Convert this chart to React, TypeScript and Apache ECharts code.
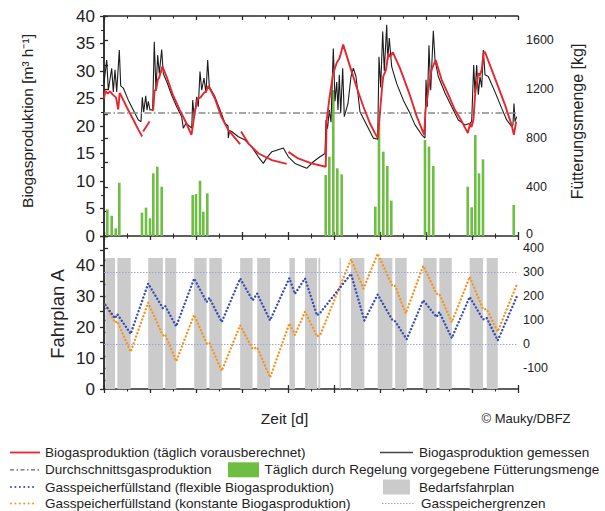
import React, { useEffect, useRef } from 'react';
import * as echarts from 'echarts';

const FONT = "'Liberation Sans', Arial, Helvetica, sans-serif";

// ---------- top panel data ----------
// predicted biogas production [m³/h], separate computed segments (days, value)
const predictedSegments: number[][][] = [
  [[0, 25.0], [0.03, 26.4], [0.08, 25.9], [0.13, 26.3], [0.19, 25.7], [0.26, 25.2], [0.31, 23.0], [0.34, 26.0], [0.38, 25.4], [0.49, 23.5], [0.64, 21.1], [0.75, 19.3], [0.83, 18.1]],
  [[0.85, 19.0], [0.92, 19.9], [0.99, 20.8]],
  [[1.03, 22.9], [1.07, 22.9], [1.1, 26.5], [1.13, 26.5], [1.17, 28.4], [1.2, 28.8], [1.27, 30.8], [1.36, 29.0], [1.5, 25.6], [1.65, 22.9], [1.79, 20.5], [1.9, 18.4], [1.93, 19.9], [1.97, 22.5], [2.0, 23.5], [2.04, 25.0], [2.1, 25.2], [2.17, 26.0], [2.22, 26.3], [2.27, 27.3], [2.41, 25.0], [2.55, 21.7], [2.7, 19.3], [2.85, 17.8], [2.96, 16.7]],
  [[2.98, 19.0], [3.14, 16.8], [3.36, 15.0], [3.65, 13.8], [3.97, 13.1]],
  [[4.01, 15.3], [4.22, 14.1], [4.51, 13.2], [4.82, 12.6], [4.84, 21.0], [4.9, 25.0], [4.98, 29.5], [5.06, 31.5], [5.12, 32.3], [5.2, 34.8], [5.35, 30.8], [5.49, 27.1], [5.64, 23.5], [5.78, 20.5], [5.89, 18.7], [5.95, 17.8], [5.98, 20.5], [6.04, 26.5], [6.07, 29.0], [6.13, 30.2], [6.18, 33.2], [6.22, 32.6], [6.28, 33.4], [6.44, 30.4], [6.65, 25.6], [6.8, 21.7], [6.96, 18.4], [6.99, 22.9], [7.07, 27.7], [7.12, 30.2], [7.21, 32.0], [7.34, 28.4], [7.49, 25.6], [7.63, 22.9], [7.78, 20.8], [7.91, 18.7], [7.96, 20.5], [7.99, 19.8], [8.03, 21.1], [8.07, 26.0], [8.14, 29.6], [8.17, 29.2], [8.21, 30.2], [8.25, 33.2], [8.28, 33.5], [8.43, 30.2], [8.57, 27.1], [8.72, 23.8], [8.86, 20.2], [8.91, 18.4], [8.96, 20.8]],
];

// measured biogas production [m³/h]
const measured: number[][] = [
  [0, 27.8], [0.059, 32], [0.094, 26.5], [0.167, 30.5], [0.202, 26.2], [0.239, 30.2], [0.276, 26.2], [0.333, 33.8], [0.363, 27.3], [0.42, 26.9], [0.528, 24.7], [0.637, 22.9], [0.746, 21.1], [0.804, 20.8], [0.833, 25.2], [0.863, 22.5], [0.907, 25.5], [0.935, 22.9], [0.963, 24.5], [1.0, 22.9], [1.058, 23.0], [1.093, 35.3], [1.13, 26.5], [1.167, 32.9], [1.202, 29.5], [1.254, 33.9], [1.289, 29.5], [1.363, 28.1], [1.472, 25.6], [1.58, 23.5], [1.689, 21.7], [1.724, 19.6], [1.783, 20.5], [1.87, 19.9], [1.907, 19.6], [1.928, 24.7], [1.963, 21.4], [2.015, 25.3], [2.05, 23.5], [2.087, 29.9], [2.124, 26.5], [2.174, 28.7], [2.217, 26.0], [2.254, 32.0], [2.289, 27.2], [2.413, 25.3], [2.522, 22.9], [2.63, 20.5], [2.696, 20.0], [2.702, 17.8], [2.73, 19.2], [2.776, 19.0], [2.92, 18.05], [3.065, 17.45], [3.211, 16.2], [3.354, 14.4], [3.463, 13.2], [3.537, 14.2], [3.646, 15.3], [3.754, 15.6], [3.898, 16.0], [4.007, 14.4], [4.152, 13.2], [4.298, 12.7], [4.407, 12.3], [4.55, 13.5], [4.696, 14.4], [4.804, 15.0], [4.826, 21.1], [4.859, 19.5], [4.898, 22.9], [4.935, 20.7], [4.985, 34.1], [5.022, 24.5], [5.059, 28.0], [5.087, 22.9], [5.115, 29.3], [5.146, 22.3], [5.189, 30.5], [5.224, 21.7], [5.304, 24.1], [5.37, 29.0], [5.42, 30.5], [5.478, 29.0], [5.565, 22.6], [5.711, 20.2], [5.854, 17.8], [5.95, 17.6], [5.978, 32.6], [6.015, 27.0], [6.059, 37.2], [6.093, 30.0], [6.146, 38.4], [6.167, 32.0], [6.202, 36.0], [6.254, 30.8], [6.363, 27.7], [6.507, 24.7], [6.652, 22.3], [6.761, 20.2], [6.907, 18.4], [6.978, 17.8], [7.0, 28.4], [7.028, 23.5], [7.065, 34.7], [7.102, 26.5], [7.159, 37.3], [7.196, 32.0], [7.267, 29.0], [7.413, 26.0], [7.559, 23.5], [7.702, 21.1], [7.848, 20.2], [7.957, 20.5], [7.993, 20.8], [8.037, 31.1], [8.065, 26.0], [8.102, 31.1], [8.137, 25.7], [8.174, 29.0], [8.211, 27.0], [8.246, 33.8], [8.283, 29.3], [8.354, 29.0], [8.5, 26.2], [8.646, 23.2], [8.754, 21.1], [8.863, 19.9], [8.89, 20.2], [8.913, 24.1], [8.935, 20.8], [8.972, 21.7],
];

const AVERAGE_PRODUCTION = 22.5;

// daily feeding amount [kg]
const feedDays = [0.072, 0.167, 0.254, 0.333, 0.826, 0.913, 1.0, 1.072, 1.159, 1.254, 1.928, 2.0, 2.087, 2.159, 2.246, 4.82, 4.898, 4.985, 5.072, 5.167, 5.898, 5.978, 6.072, 6.159, 6.246, 6.978, 7.065, 7.159, 7.907, 7.993, 8.072, 8.152, 8.239, 8.907];
const feedKg = [218, 166, 63, 436, 191, 232, 145, 513, 567, 403, 335, 343, 452, 199, 349, 499, 649, 1194, 554, 505, 240, 922, 690, 573, 289, 785, 731, 573, 403, 235, 826, 513, 627, 254];

// ---------- bottom panel data ----------
// demand schedule (Fahrplan A) blocks [days]
const demandStart = [0.03, 0.29, 0.96, 1.33, 1.96, 2.29, 2.96, 3.33, 4.03, 4.37, 4.66, 5.12, 5.37, 5.95, 6.33, 6.94, 7.29, 7.95, 8.32];
const demandEnd = [0.24, 0.58, 1.28, 1.57, 2.23, 2.56, 3.23, 3.61, 4.15, 4.63, 4.7, 5.15, 5.66, 6.27, 6.58, 7.23, 7.56, 8.24, 8.56];
const FAHRPLAN_LEVEL = 42.4;

// gas storage level, flexible production
const flexDays = [0.03, 0.24, 0.29, 0.58, 0.96, 1.28, 1.33, 1.57, 1.96, 2.23, 2.29, 2.56, 2.96, 3.23, 3.33, 3.61, 4.03, 4.15, 4.37, 4.63, 4.7, 5.37, 5.66, 5.95, 6.27, 6.33, 6.58, 6.94, 7.23, 7.29, 7.56, 7.95, 8.24, 8.32, 8.56, 8.97];
const flexLevel = [163, 108, 125, 43, 253, 150, 159, 74, 274, 176, 193, 92, 274, 183, 211, 99, 276, 210, 275, 120, 131, 294, 99, 207, 100, 95, 20, 183, 113, 134, 25, 197, 103, 109, 15, 197];

// gas storage level, constant production
const constDays = [0.03, 0.24, 0.29, 0.58, 0.96, 1.28, 1.33, 1.57, 1.96, 2.23, 2.29, 2.56, 2.96, 3.23, 3.33, 3.61, 4.03, 4.15, 4.37, 4.63, 4.7, 5.37, 5.64, 5.95, 6.27, 6.33, 6.56, 6.94, 7.23, 7.29, 7.56, 7.95, 8.24, 8.32, 8.56, 8.97];
const constLevel = [165, 90, 95, -32, 173, 36, 40, -72, 122, 3, 6, -112, 78, -20, -14, -140, 86, 38, 135, 32, 38, 354, 232, 378, 243, 243, 128, 327, 210, 210, 91, 281, 146, 146, 52, 247];

const STORAGE_LIMITS = [0, 300];

const storageLabels = [-100, 0, 100, 200, 300, 400];
const storageTicks = [-150, -100, -50, 0, 50, 100, 150, 200, 250, 300, 350, 400, 450];

// ---------- styling ----------
const AXIS_COLOR = '#2a2a2a';
const TEXT_COLOR = '#222';
const RED = '#e8262d';
const BLACK = '#1c1c1c';
const GREEN = '#6fbe44';
const BLUE = '#3a4cb3';
const ORANGE = '#f7941e';
const GRAY_BLOCK = '#cbcbcb';
const LIMIT_COLOR = '#9ea3e6';
const AVG_COLOR = '#8a8a8a';
const LEGEND_FONT = 13.5;

function xAxisBase(gridIndex: number, position: 'top' | 'bottom', inside: boolean, showLine: boolean) {
  return {
    type: 'value',
    gridIndex,
    position,
    min: 0,
    max: 9,
    interval: 1,
    axisLine: { show: showLine, onZero: false, lineStyle: { color: AXIS_COLOR, width: 1.5 } },
    axisTick: { show: true, inside, length: 4, lineStyle: { color: AXIS_COLOR, width: 1.3 } },
    minorTick: { show: true, splitNumber: 2, length: 2.5, lineStyle: { color: AXIS_COLOR, width: 1.1 } },
    axisLabel: { show: false },
    splitLine: { show: false },
    minorSplitLine: { show: false },
  };
}

function legendText(x: number, y: number, text: string) {
  return {
    type: 'text',
    x,
    y,
    style: { text, fontSize: LEGEND_FONT, fontFamily: FONT, fill: TEXT_COLOR, textAlign: 'left', textVerticalAlign: 'middle', align: 'left', verticalAlign: 'middle' },
  };
}

function legendLine(x1: number, x2: number, y: number, stroke: string, lineWidth: number, lineDash?: number[], cap?: string) {
  return {
    type: 'line',
    shape: { x1, y1: y, x2, y2: y },
    style: { stroke, lineWidth, lineDash: lineDash || null, lineCap: cap || 'butt' },
  };
}

export default function App() {
  const ref = useRef<HTMLDivElement>(null);

  useEffect(() => {
    if (!ref.current) return;
    const chart = echarts.init(ref.current, null, { renderer: 'svg' });

    const predictedData: any[] = [];
    predictedSegments.forEach((seg, i) => {
      if (i > 0) predictedData.push(['-', '-']);
      seg.forEach((p) => predictedData.push(p));
    });

    const feedData = feedDays.map((d, i) => [d, feedKg[i]]);
    const demandData = demandStart.map((s, i) => [s, demandEnd[i]]);
    const flexData = flexDays.map((d, i) => [d, flexLevel[i]]);
    const constData = constDays.map((d, i) => [d, constLevel[i]]);

    const rows = [452.5, 469.8, 487, 503.5];

    const option: any = {
      animation: false,
      backgroundColor: '#fff',
      textStyle: { fontFamily: FONT },
      grid: [
        { left: 104, right: 87, top: 16, height: 220, containLabel: false },
        { left: 104, right: 87, top: 236, height: 153, containLabel: false },
      ],
      xAxis: [
        xAxisBase(0, 'bottom', false, true),
        xAxisBase(0, 'bottom', true, false),
        xAxisBase(0, 'top', true, true),
        xAxisBase(1, 'bottom', false, true),
        xAxisBase(1, 'bottom', true, false),
      ],
      yAxis: [
        {
          type: 'value', gridIndex: 0, position: 'left', min: 0, max: 40, interval: 5,
          axisLine: { show: true, lineStyle: { color: AXIS_COLOR, width: 1.5 } },
          axisTick: { show: true, length: 4, lineStyle: { color: AXIS_COLOR, width: 1.3 } },
          minorTick: { show: true, splitNumber: 2, length: 3, lineStyle: { color: AXIS_COLOR, width: 1.1 } },
          axisLabel: { fontSize: 17, color: TEXT_COLOR, margin: 9, fontFamily: FONT, lineHeight: 14 },
          splitLine: { show: false },
        },
        {
          type: 'value', gridIndex: 0, position: 'right', min: 0, max: 1800, interval: 200,
          axisLine: { show: true, lineStyle: { color: AXIS_COLOR, width: 1.5 } },
          axisTick: { show: true, length: 4, lineStyle: { color: AXIS_COLOR, width: 1.3 } },
          axisLabel: {
            fontSize: 12.5, color: TEXT_COLOR, margin: 8, fontFamily: FONT, lineHeight: 10,
            formatter: (v: number) => (v === 0 ? '{lift|0}' : v % 400 === 0 && v < 1800 ? String(v) : ''),
            rich: { lift: { fontSize: 12.5, fontFamily: FONT, color: TEXT_COLOR, lineHeight: 10, padding: [0, 0, 5, 0] } },
          },
          splitLine: { show: false },
        },
        {
          type: 'value', gridIndex: 1, position: 'left', min: 0, max: 49.5, interval: 5,
          axisLine: { show: true, lineStyle: { color: AXIS_COLOR, width: 1.5 } },
          axisTick: { show: true, length: 4, lineStyle: { color: AXIS_COLOR, width: 1.3 } },
          axisLabel: {
            fontSize: 17, color: TEXT_COLOR, margin: 9, fontFamily: FONT, lineHeight: 14,
            formatter: (v: number) => (Math.abs(v % 10) < 1e-9 ? String(v) : ''),
          },
          splitLine: { show: false },
        },
        {
          type: 'value', gridIndex: 1, position: 'right', min: -188, max: 452,
          axisLine: { show: true, lineStyle: { color: AXIS_COLOR, width: 1.5 } },
          axisTick: { show: true, length: 4, customValues: storageTicks, lineStyle: { color: AXIS_COLOR, width: 1.3 } },
          axisLabel: { fontSize: 12.5, color: TEXT_COLOR, margin: 5, fontFamily: FONT, lineHeight: 10, customValues: storageLabels },
          splitLine: { show: false },
        },
      ],
      series: [
        {
          name: 'Bedarfsfahrplan',
          type: 'custom',
          xAxisIndex: 3,
          yAxisIndex: 2,
          encode: { x: [0, 1] },
          data: demandData,
          z: 1,
          renderItem: (_params: any, api: any) => {
            const p0 = api.coord([api.value(0), 0]);
            const p1 = api.coord([api.value(1), FAHRPLAN_LEVEL]);
            return {
              type: 'rect',
              shape: { x: p0[0], y: p1[1], width: p1[0] - p0[0], height: p0[1] - p1[1] },
              style: { fill: GRAY_BLOCK },
            };
          },
        },
        {
          name: 'Gasspeicherfüllstand (konstante Biogasproduktion)',
          type: 'line',
          xAxisIndex: 3,
          yAxisIndex: 3,
          data: constData,
          showSymbol: false,
          z: 3,
          lineStyle: { color: ORANGE, width: 2.4, type: [0.01, 3.6], cap: 'round' },
        },
        {
          name: 'Gasspeicherfüllstand (flexible Biogasproduktion)',
          type: 'line',
          xAxisIndex: 3,
          yAxisIndex: 3,
          data: flexData,
          showSymbol: false,
          z: 4,
          lineStyle: { color: BLUE, width: 2.4, type: [0.01, 3.6], cap: 'round' },
          markLine: {
            silent: true,
            symbol: 'none',
            label: { show: false },
            lineStyle: { color: LIMIT_COLOR, width: 1, type: [1.5, 1.5] },
            data: STORAGE_LIMITS.map((v) => ({ yAxis: v })),
          },
        },
        {
          name: 'Täglich durch Regelung vorgegebene Fütterungsmenge',
          type: 'bar',
          xAxisIndex: 0,
          yAxisIndex: 1,
          data: feedData,
          barWidth: 2.6,
          z: 2,
          itemStyle: { color: GREEN },
        },
        {
          name: 'Biogasproduktion gemessen',
          type: 'line',
          xAxisIndex: 0,
          yAxisIndex: 0,
          data: measured,
          showSymbol: false,
          z: 4,
          lineStyle: { color: BLACK, width: 1.1 },
          markLine: {
            silent: true,
            symbol: 'none',
            label: { show: false },
            lineStyle: { color: AVG_COLOR, width: 1.6, type: [7, 2.5, 1.5, 2.5] },
            data: [{ yAxis: AVERAGE_PRODUCTION }],
          },
        },
        {
          name: 'Biogasproduktion (täglich vorausberechnet)',
          type: 'line',
          xAxisIndex: 0,
          yAxisIndex: 0,
          data: predictedData,
          connectNulls: false,
          showSymbol: false,
          z: 5,
          lineStyle: { color: RED, width: 1.9 },
        },
      ],
      graphic: [
        {
          type: 'text', x: 27.5, y: 121, rotation: Math.PI / 2,
          style: { text: 'Biogasproduktion [m³ h⁻¹]', fontSize: 15.5, fontFamily: FONT, fill: TEXT_COLOR, textAlign: 'center', textVerticalAlign: 'middle', align: 'center', verticalAlign: 'middle' },
        },
        {
          type: 'text', x: 577, y: 121.5, rotation: Math.PI / 2,
          style: { text: 'Fütterungsmenge [kg]', fontSize: 16, fontFamily: FONT, fill: TEXT_COLOR, textAlign: 'center', textVerticalAlign: 'middle', align: 'center', verticalAlign: 'middle' },
        },
        {
          type: 'text', x: 57, y: 314, rotation: Math.PI / 2,
          style: { text: 'Fahrplan A', fontSize: 18.5, fontFamily: FONT, fill: TEXT_COLOR, textAlign: 'center', textVerticalAlign: 'middle', align: 'center', verticalAlign: 'middle' },
        },
        {
          type: 'text', x: 284.5, y: 418,
          style: { text: 'Zeit [d]', fontSize: 15.5, fontFamily: FONT, fill: TEXT_COLOR, textAlign: 'center', textVerticalAlign: 'middle', align: 'center', verticalAlign: 'middle' },
        },
        {
          type: 'text', x: 481.5, y: 418,
          style: { text: '© Mauky/DBFZ', fontSize: 13, fontFamily: FONT, fill: TEXT_COLOR, textAlign: 'left', textVerticalAlign: 'middle', align: 'left', verticalAlign: 'middle' },
        },
        // legend row 1
        legendLine(10, 40, rows[0], RED, 1.8),
        legendText(45, rows[0], 'Biogasproduktion (täglich vorausberechnet)'),
        legendLine(380, 413, rows[0], '#444', 1.3),
        legendText(419, rows[0], 'Biogasproduktion gemessen'),
        // legend row 2
        legendLine(10, 40, rows[1], '#666', 1.2, [4, 2.5, 1.5, 2.5]),
        legendText(45, rows[1], 'Durchschnittsgasproduktion'),
        { type: 'rect', shape: { x: 228, y: rows[1] - 7.5, width: 31, height: 15 }, style: { fill: GREEN } },
        legendText(264.5, rows[1], 'Täglich durch Regelung vorgegebene Fütterungsmenge'),
        // legend row 3
        legendLine(11, 37, rows[2], BLUE, 2, [0.01, 4.4], 'round'),
        legendText(45, rows[2], 'Gasspeicherfüllstand (flexible Biogasproduktion)'),
        { type: 'rect', shape: { x: 383, y: rows[2] - 7.5, width: 27, height: 15 }, style: { fill: GRAY_BLOCK } },
        legendText(419, rows[2], 'Bedarfsfahrplan'),
        // legend row 4
        legendLine(11, 37, rows[3], ORANGE, 2, [0.01, 4.4], 'round'),
        legendText(45, rows[3], 'Gasspeicherfüllstand (konstante Biogasproduktion)'),
        legendLine(382, 414, rows[3], LIMIT_COLOR, 1, [1.5, 1.5]),
        legendText(421, rows[3], 'Gasspeichergrenzen'),
      ],
    };

    chart.setOption(option);
    return () => chart.dispose();
  }, []);

  return <div ref={ref} style={{ position: 'absolute', left: 0, top: 0, width: 605, height: 511 }} />;
}
